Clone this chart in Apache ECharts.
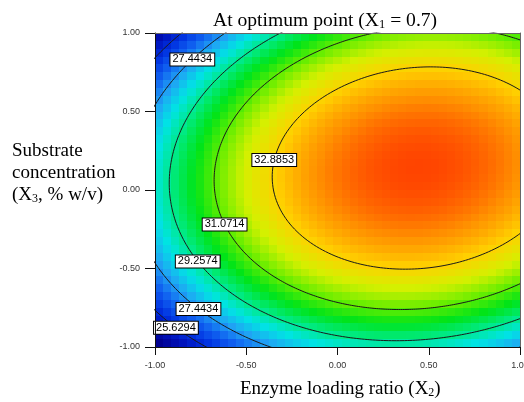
<!DOCTYPE html>
<html><head><meta charset="utf-8">
<script src="https://cdn.jsdelivr.net/npm/echarts@6/dist/echarts.min.js"></script>
<style>html,body{margin:0;padding:0;background:#fff}#c{width:524px;height:402px}</style>
</head><body><div id="c"></div>
<script>
// ---- data ----
const xTicks = [-1, -0.5, 0, 0.5, 1];          // Enzyme loading ratio (X2), coded
const yTicks = [-1, -0.5, 0, 0.5, 1];          // Substrate concentration (X3), coded
const contourLevels = [25.6294, 27.4434, 29.2574, 31.0714, 32.8853];
// quadratic response-surface model (coded X2, X3) at X1 = 0.7, estimated from contour positions
const coefNames  = ['b0', 'b2', 'b3', 'b22', 'b33', 'b23'];
const coefValues = [34.149, 2.549, 1.002, -3.0, -4.6, 0.65];
// contour labels shown on the plot
const labelLevels = [27.4434, 32.8853, 31.0714, 29.2574, 27.4434, 25.6294];

// ---- layout / style (not data) ----
const labelHints = [[-0.808, 0.841], [-0.345, 0.194], [-0.611, -0.207], [-0.753, -0.449], [-0.756, -0.736], [-0.868, -0.857]];
const NX = 45, NY = 40;
const palette = ['#000090','#0010b8','#0030e0','#1060f0','#20a4f4','#00e4e4','#00ea80','#00e418','#68ee00','#d4f000','#ffd000','#ff9000','#ff4400'];
const serif = 'Liberation Serif, Times New Roman, serif';
const sans = 'Liberation Sans, Arial, sans-serif';

const C = {};
coefNames.forEach((n, i) => C[n] = coefValues[i]);
function model(x, y) {
  return C.b0 + C.b2 * x + C.b3 * y + C.b22 * x * x + C.b33 * y * y + C.b23 * x * y;
}

// surface cells
const cells = [];
let vmin = Infinity, vmax = -Infinity;
for (let j = 0; j < NY; j++) {
  for (let i = 0; i < NX; i++) {
    const x = -1 + (i + 0.5) * 2 / NX, y = -1 + (j + 0.5) * 2 / NY;
    const v = model(x, y);
    vmin = Math.min(vmin, v); vmax = Math.max(vmax, v);
    cells.push([x, y, v]);
  }
}

// stationary point of the surface
const det = 4 * C.b22 * C.b33 - C.b23 * C.b23;
const sx = (-C.b2 * 2 * C.b33 + C.b3 * C.b23) / det;
const sy = (-2 * C.b22 * C.b3 + C.b23 * C.b2) / det;
const fs = model(sx, sy);

// contour curves of the model
function contour(level) {
  const pts = [];
  const N = 480;
  for (let k = 0; k <= N; k++) {
    const t = k / N * Math.PI * 2, c = Math.cos(t), s = Math.sin(t);
    const q = C.b22 * c * c + C.b33 * s * s + C.b23 * c * s;
    const r = Math.sqrt((level - fs) / q);
    pts.push([sx + r * c, sy + r * s]);
  }
  return pts;
}
const contourData = contourLevels.map(contour);

// label anchor = nearest contour point to hint
const labelData = labelLevels.map((lv, i) => {
  const pts = contourData[contourLevels.indexOf(lv)];
  const h = labelHints[i];
  let best = pts[0], bd = Infinity;
  pts.forEach(p => {
    if (Math.abs(p[0]) > 1 || Math.abs(p[1]) > 1) return;
    const d = Math.pow((p[0] - h[0]) * 182.5, 2) + Math.pow((p[1] - h[1]) * 157, 2);
    if (d < bd) { bd = d; best = p; }
  });
  return { value: [best[0], best[1]], name: lv.toFixed(4) };
});

const chart = echarts.init(document.getElementById('c'));
const tickFmt = v => v.toFixed(2);
const richTxt = { a: { fontFamily: serif, fontSize: 19, fontWeight: 'normal', color: '#000', lineHeight: 22 },
                  s: { fontFamily: serif, fontSize: 12, fontWeight: 'normal', color: '#000', padding: [8, 0, 0, 0] } };
const richTitle = { a: { fontFamily: serif, fontSize: 19.6, fontWeight: 'normal', color: '#000', lineHeight: 22 },
                    s: { fontFamily: serif, fontSize: 12.5, fontWeight: 'normal', color: '#000', padding: [8, 0, 0, 0] } };
chart.setOption({
  animation: false,
  backgroundColor: '#fff',
  title: [
    { text: '{a|At optimum point (X}{s|1}{a| = 0.7)}', left: 213, top: 10, padding: 0,
      textStyle: { fontWeight: 'normal', rich: richTitle } },
    { text: '{a|Substrate}\n{a|concentration}\n{a|(X}{s|3}{a|, % w/v)}', left: 12, top: 140, padding: 0,
      textStyle: { fontWeight: 'normal', rich: richTxt } },
    { text: '{a|Enzyme loading ratio (X}{s|2}{a|)}', left: 240, top: 378, padding: 0,
      textStyle: { fontWeight: 'normal', rich: richTxt } }
  ],
  grid: { left: 155, right: 4, top: 33, bottom: 55, outerBoundsMode: 'none', containLabel: false },
  visualMap: { show: false, type: 'continuous', seriesIndex: 0, dimension: 2, min: vmin, max: vmax,
               inRange: { color: palette } },
  xAxis: [
    { type: 'value', min: xTicks[0], max: xTicks[xTicks.length - 1], interval: xTicks[1] - xTicks[0], z: 10,
      axisLine: { show: true, onZero: false, lineStyle: { color: '#111', width: 1 } },
      axisTick: { show: true, inside: false, length: 8, lineStyle: { color: '#111' } },
      axisLabel: { formatter: tickFmt, fontFamily: sans, fontSize: 9, color: '#333', margin: 14, showMaxLabel: true },
      splitLine: { show: false } },
    { type: 'value', position: 'top', min: -1, max: 1, z: 10,
      axisLine: { show: true, onZero: false, lineStyle: { color: '#666' } },
      axisTick: { show: false }, axisLabel: { show: false }, splitLine: { show: false } }
  ],
  yAxis: [
    { type: 'value', min: yTicks[0], max: yTicks[yTicks.length - 1], interval: yTicks[1] - yTicks[0], z: 10,
      axisLine: { show: true, onZero: false, lineStyle: { color: '#111', width: 1 } },
      axisTick: { show: true, inside: false, length: 10, lineStyle: { color: '#111' } },
      axisLabel: { formatter: tickFmt, fontFamily: sans, fontSize: 9, color: '#333', margin: 15 },
      splitLine: { show: false } },
    { type: 'value', position: 'right', min: -1, max: 1, z: 10,
      axisLine: { show: true, onZero: false, lineStyle: { color: '#666' } },
      axisTick: { show: false }, axisLabel: { show: false }, splitLine: { show: false } }
  ],
  series: [
    { type: 'custom', data: cells, encode: { x: 0, y: 1 }, clip: true, z: 1, silent: true,
      renderItem: function (params, api) {
        const x = api.value(0), y = api.value(1);
        const p0 = api.coord([x - 1 / NX, y + 1 / NY]), p1 = api.coord([x + 1 / NX, y - 1 / NY]);
        const x0 = Math.round(p0[0]), y0 = Math.round(p0[1]), x1 = Math.round(p1[0]), y1 = Math.round(p1[1]);
        return { type: 'rect', shape: { x: x0, y: y0, width: x1 - x0, height: y1 - y0 },
                 style: { fill: api.visual('color') } };
      } }
  ].concat(contourData.map(pts => ({
    type: 'line', data: pts, showSymbol: false, symbol: 'none', clip: true, z: 3, silent: true, smooth: false,
    lineStyle: { color: '#1a1a1a', width: 1 }
  }))).concat([
    { type: 'scatter', data: labelData, symbolSize: 1, z: 6, silent: true,
      itemStyle: { color: 'rgba(0,0,0,0)', opacity: 1 },
      label: { show: true, position: 'inside', formatter: '{b}', fontFamily: sans, fontSize: 11, color: '#000',
               opacity: 1, backgroundColor: '#ffffff', borderColor: '#000', borderWidth: 1,
               padding: [1, 2, 0, 2], lineHeight: 11 } }
  ])
});
</script>
</body></html>
